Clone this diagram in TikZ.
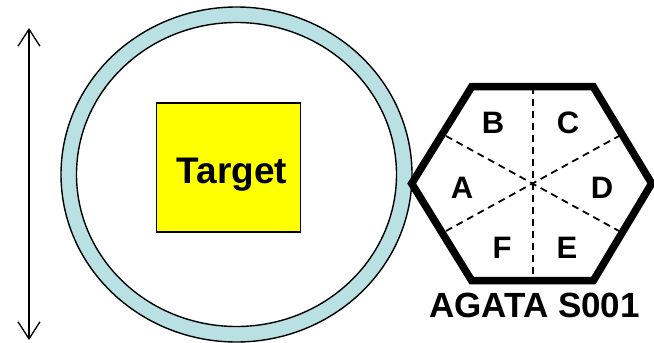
\documentclass[tikz,border=0pt]{standalone}
\usepackage{fontspec}
\setmainfont{Liberation Sans}
\usetikzlibrary{arrows.meta}
\definecolor{ringblue}{RGB}{185,224,227}
\definecolor{targetyellow}{RGB}{255,255,0}
\begin{document}
\begin{tikzpicture}[x=1pt,y=-1pt,
  seglabel/.style={font=\fontsize{31}{31}\selectfont\bfseries, inner sep=0pt, anchor=base},
  segline/.style={line width=1.8pt, dash pattern=on 7pt off 5pt},
  ringline/.style={line width=1.4pt, draw=black}]
\useasboundingbox (0,0) rectangle (654,343);
% double arrow
\coordinate (atop) at (29,28);
\coordinate (abot) at (29,340);
\draw[line width=1.3pt, {Straight Barb[length=17pt,width=22pt]}-{Straight Barb[length=17pt,width=22pt]}] (atop) -- (abot);
% ring
\coordinate (cc) at (236.5,174.5);
\filldraw[ringline, fill=ringblue] (cc) ellipse [x radius=175.5, y radius=167.5];
\filldraw[ringline, fill=white] (cc) ellipse [x radius=160, y radius=152];
% target
\node[draw=black, line width=1.5pt, fill=targetyellow, minimum width=144pt, minimum height=129pt, inner sep=0pt] (target) at (228.7,167.5) {};
\node[font=\fontsize{37}{37}\selectfont\bfseries, inner sep=0pt, anchor=base] (targettext) at (232,183) {Target};
% hexagon
\coordinate (h1) at (471.7,86.7);
\coordinate (h2) at (593.3,86.7);
\coordinate (h3) at (651.7,183.5);
\coordinate (h4) at (593.3,280.7);
\coordinate (h5) at (471.7,280.7);
\coordinate (h6) at (411.7,183.5);
\coordinate (mt) at (533,86.7);
\coordinate (mb) at (533,280.7);
\coordinate (mul) at (446,136);
\coordinate (mur) at (619,136);
\coordinate (mll) at (446,231);
\coordinate (mlr) at (619,231);
\draw[segline] (mt) -- (mb);
\draw[segline] (mul) -- (mlr);
\draw[segline] (mll) -- (mur);
\draw[line width=7.5pt, line join=miter] (h1) -- (h2) -- (h3) -- (h4) -- (h5) -- (h6) -- cycle;
% labels
\node[seglabel] (lB) at (493,133) {B};
\node[seglabel] (lC) at (568,133) {C};
\node[seglabel] (lA) at (462,198) {A};
\node[seglabel] (lD) at (602,198) {D};
\node[seglabel] (lF) at (502,258) {F};
\node[seglabel] (lE) at (567,258) {E};
\node[font=\fontsize{35}{35}\selectfont\bfseries, inner sep=0pt, anchor=base] (agata) at (534.5,317) {AGATA S001};
\end{tikzpicture}
\end{document}
